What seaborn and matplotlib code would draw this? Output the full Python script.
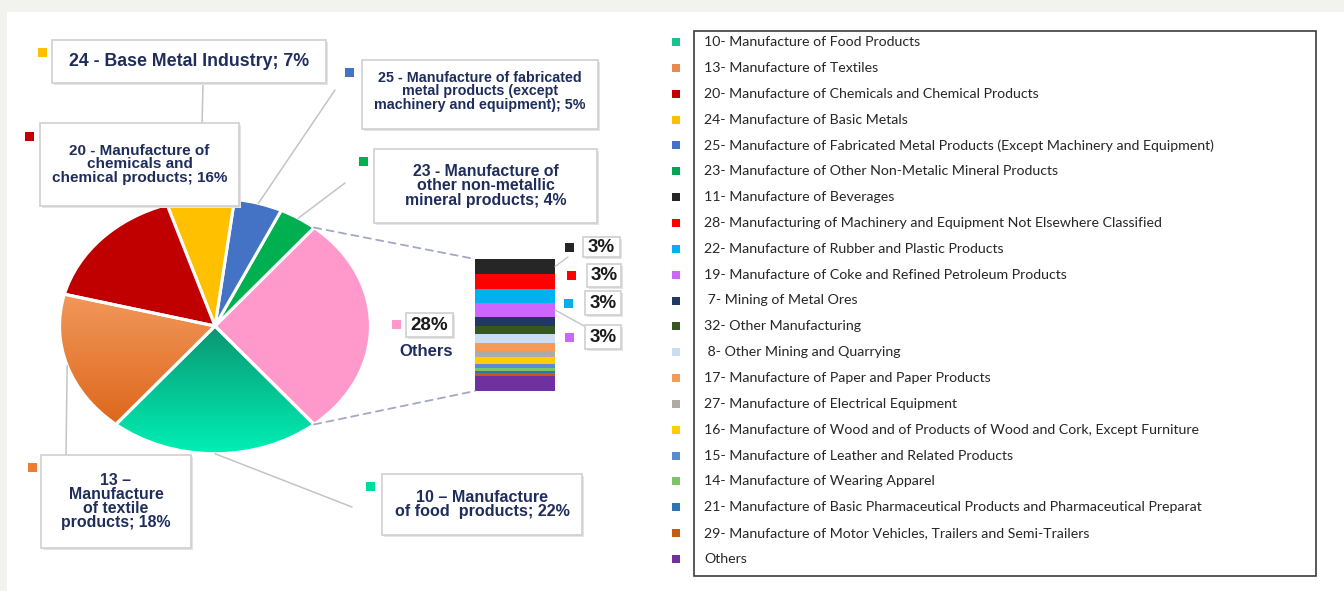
import matplotlib
matplotlib.use("Agg")
import matplotlib.pyplot as plt
import numpy as np
import seaborn as sns
from matplotlib.patches import Rectangle, ConnectionPatch
from matplotlib.colors import LinearSegmentedColormap

sns.set_theme(style="white")
plt.rcParams["font.family"] = ["Liberation Sans", "DejaVu Sans"]

# ---- data ----
# main pie, counter-clockwise starting with "Others"
pie_names = ["Others", "23", "25", "24", "20", "13", "10"]
pie_values = [28, 4, 5, 7, 16, 18, 22]
pie_colors = ["#ff99cc", "#00b050", "#4472c4", "#ffc000", "#c00000", "#ed7d31", "#00d9a0"]
pie_texts = [
    "28%",
    "23 - Manufacture of\nother non-metallic\nmineral products; 4%",
    "25 - Manufacture of fabricated\nmetal products (except\nmachinery and equipment); 5%",
    "24 - Base Metal Industry; 7%",
    "20 - Manufacture of\nchemicals and\nchemical products; 16%",
    "13 \u2013\nManufacture\nof textile\nproducts; 18%",
    "10 \u2013 Manufacture\nof food  products; 22%",
]

# breakdown of "Others" (top of the bar first)
bar_codes = ["11", "28", "22", "19", "7", "32", "8", "17", "27", "16", "15", "14", "21", "29", "Others"]
bar_values = [3.2, 3.1, 3.0, 3.0, 2.0, 1.6, 2.0, 1.6, 1.3, 1.4, 0.9, 0.7, 0.4, 0.7, 3.1]
bar_colors = ["#262626", "#ff0000", "#00b0f0", "#cc66ff", "#1f3864", "#375623", "#c9ddf4",
              "#f79a55", "#b0aaa4", "#ffcc00", "#5b8bd0", "#7dc36a", "#2e75b6", "#c55a11", "#7030a0"]
bar_labels = ["3%", "3%", "3%", "3%"]

legend_labels = [
    "10- Manufacture of Food Products",
    "13- Manufacture of Textiles",
    "20- Manufacture of Chemicals and Chemical Products",
    "24- Manufacture of Basic Metals",
    "25- Manufacture of Fabricated Metal Products (Except Machinery and Equipment)",
    "23- Manufacture of Other Non-Metalic Mineral Products",
    "11- Manufacture of Beverages",
    "28- Manufacturing of Machinery and Equipment Not Elsewhere Classified",
    "22- Manufacture of Rubber and Plastic Products",
    "19- Manufacture of Coke and Refined Petroleum Products",
    " 7- Mining of Metal Ores",
    "32- Other Manufacturing",
    " 8- Other Mining and Quarrying",
    "17- Manufacture of Paper and Paper Products",
    "27- Manufacture of Electrical Equipment",
    "16- Manufacture of Wood and of Products of Wood and Cork, Except Furniture",
    "15- Manufacture of Leather and Related Products",
    "14- Manufacture of Wearing Apparel",
    "21- Manufacture of Basic Pharmaceutical Products and Pharmaceutical Preparat",
    "29- Manufacture of Motor Vehicles, Trailers and Semi-Trailers",
    "Others",
]
legend_colors = ["#1fc090", "#e8894f", "#c00000", "#ffc000", "#4472c4", "#00a550", "#262626",
                 "#ff0000", "#00b0f0", "#cc66ff", "#1f3864", "#375623", "#c9ddf4", "#f79a55",
                 "#b0aaa4", "#ffcc00", "#5b8bd0", "#7dc36a", "#2e75b6", "#c55a11", "#7030a0"]

W, H = 1344, 591
navy = "#1f2d5c"
fig = plt.figure(figsize=(W / 100, H / 100), dpi=100)
fig.patch.set_facecolor("#f2f2ee")

# white panel
ax_bg = fig.add_axes([0, 0, 1, 1], zorder=0)
ax_bg.set_xlim(0, W)
ax_bg.set_ylim(H, 0)
ax_bg.axis("off")
ax_bg.add_patch(Rectangle((7, 12), W, H, facecolor="white", edgecolor="none"))

# ---- pie (slightly wider than tall, like the source) ----
ax_pie = fig.add_axes([58 / W, 1 - 455 / H, 314 / W, 258 / H], zorder=1)
start = -pie_values[0] / sum(pie_values) * 360 / 2
wedges, _ = ax_pie.pie(pie_values, colors=pie_colors, startangle=start, counterclock=True,
                       wedgeprops=dict(edgecolor="white", linewidth=2.2))


def shade(wedge, c_top, c_bot, y0, y1):
    cmap = LinearSegmentedColormap.from_list("g", [c_bot, c_top])
    grad = np.linspace(0, 1, 256).reshape(-1, 1)
    im = ax_pie.imshow(grad, cmap=cmap, extent=(-1.05, 1.05, y0, y1), origin="lower",
                       aspect="auto", zorder=0.5)
    im.set_clip_path(wedge)
    wedge.set_facecolor("none")


shade(wedges[6], "#0b9470", "#00f2b6", -1.02, 0.02)
shade(wedges[5], "#f39a5e", "#dd661a", -0.8, 0.3)
ax_pie.set_aspect("auto")
ax_pie.set_xlim(-1.01, 1.01)
ax_pie.set_ylim(-1.01, 1.01)
ax_pie.axis("off")

# ---- bar of "Others" ----
ax_bar = fig.add_axes([475 / W, 1 - 391 / H, 80 / W, 132 / H], zorder=1)
bottom = 0.0
bar_mid = {}
for code, val, col in zip(bar_codes[::-1], bar_values[::-1], bar_colors[::-1]):
    ax_bar.bar(0, val, bottom=bottom, width=1.0, color=col, linewidth=0)
    bar_mid[code] = bottom + val / 2
    bottom += val
ax_bar.set_xlim(-0.5, 0.5)
ax_bar.set_ylim(0, bottom)
ax_bar.axis("off")
total_bar = bottom

# ---- overlay for callouts ----
ax = fig.add_axes([0, 0, 1, 1], zorder=3)
ax.set_xlim(0, W)
ax.set_ylim(H, 0)
ax.axis("off")


def box(x0, y0, x1, y1, ec="#cfcfcf"):
    ax.add_patch(Rectangle((x0 + 2, y0 + 2), x1 - x0, y1 - y0, facecolor="#e4e4e4",
                           edgecolor="none", zorder=3))
    ax.add_patch(Rectangle((x0, y0), x1 - x0, y1 - y0, facecolor="white",
                           edgecolor=ec, linewidth=1.2, zorder=4))


def square(x, y, color, size=9):
    ax.add_patch(Rectangle((x - size / 2, y - size / 2), size, size, facecolor=color,
                           edgecolor="none", zorder=5))


def leader(theta_deg, xy, color="#c4c4c4", ls="-"):
    t = np.radians(theta_deg)
    con = ConnectionPatch(xyA=(np.cos(t), np.sin(t)), coordsA=ax_pie.transData,
                          xyB=xy, coordsB=ax.transData, color=color, linewidth=1.1,
                          linestyle=ls, zorder=2)
    ax.add_artist(con)


cum = np.cumsum([0] + pie_values) / sum(pie_values) * 360 + start
mid = (cum[:-1] + cum[1:]) / 2

# callout layout: box, font size, line spacing, marker, leader end
layout = {
    "24": dict(b=(52, 40, 326, 83), fs=12.8, ls=1.0, m=(42, 52), end=(203, 83)),
    "25": dict(b=(362, 60, 598, 129), fs=10.3, ls=0.92, m=(349, 72), end=(335, 90), ty=-3),
    "20": dict(b=(40, 123, 239, 206), fs=11.0, ls=0.93, m=(29, 136), end=None),
    "23": dict(b=(374, 149, 597, 223), fs=11.4, ls=0.92, m=(363, 161), end=(345, 183)),
    "13": dict(b=(41, 455, 191, 548), fs=11.4, ls=0.92, m=(32, 467), end=(66, 455)),
    "10": dict(b=(382, 474, 582, 535), fs=11.6, ls=0.95, m=(370, 486), end=(352, 507)),
}

for i, name in enumerate(pie_names):
    if name not in layout:
        continue
    L = layout[name]
    x0, y0, x1, y1 = L["b"]
    if L["end"] is not None:
        leader(mid[i], L["end"])
    box(x0, y0, x1, y1)
    ax.text((x0 + x1) / 2, (y0 + y1) / 2 + L.get("ty", 0), pie_texts[i], ha="center",
            va="center", fontsize=L["fs"], fontweight="bold", color=navy,
            linespacing=L["ls"], zorder=6)
    square(*L["m"], pie_colors[i])

# "Others" label
box(406, 313, 453, 337)
ax.text(429.5, 325, pie_texts[0], ha="center", va="center", fontsize=13.5,
        fontweight="bold", color="#1a1a1a", zorder=6)
square(396, 324, pie_colors[0])
ax.text(426, 351, pie_names[0], ha="center", va="center", fontsize=12,
        fontweight="bold", color=navy, zorder=6)

# dashed links pie -> bar
for ang, yb in [(cum[1], total_bar), (cum[0], 0)]:
    t = np.radians(ang)
    con = ConnectionPatch(xyA=(np.cos(t), np.sin(t)), coordsA=ax_pie.transData,
                          xyB=(-0.5, yb), coordsB=ax_bar.transData, color="#a4a8c0",
                          linewidth=1.3, linestyle=(0, (4, 3)), zorder=2)
    ax.add_artist(con)

# 3% labels for the top four segments
lab_boxes = [(583, 237, 620, 257), (587, 264, 621, 287), (585, 291, 621, 315), (585, 325, 621, 349)]
lab_marks = [(569, 247), (571, 275), (568, 303), (569, 337)]
for k, (b, mk) in enumerate(zip(lab_boxes, lab_marks)):
    x0, y0, x1, y1 = b
    box(x0, y0, x1, y1)
    ax.text((x0 + x1) / 2, (y0 + y1) / 2, bar_labels[k], ha="center", va="center",
            fontsize=13.5, fontweight="bold", color="#1a1a1a", zorder=6)
    square(*mk, bar_colors[k])
for code, xy in [(bar_codes[0], (568, 257)), (bar_codes[3], (584, 326))]:
    con = ConnectionPatch(xyA=(0.5, bar_mid[code]), coordsA=ax_bar.transData,
                          xyB=xy, coordsB=ax.transData, color="#c4c4c4",
                          linewidth=1.0, zorder=2)
    ax.add_artist(con)

# ---- legend ----
ax.add_patch(Rectangle((694, 31), 1316 - 694, 576 - 31, facecolor="white",
                       edgecolor="#3c3c3c", linewidth=1.2, zorder=3))
row_h = (559 - 42) / (len(legend_labels) - 1)
for i, (lab, col) in enumerate(zip(legend_labels, legend_colors)):
    y = 42 + i * row_h
    square(676, y, col, size=8)
    ax.text(704, y, lab, ha="left", va="center", fontsize=10.2, color="#262626",
            family=["Lato", "DejaVu Sans"], zorder=6)

fig.savefig("out.png", dpi=100, facecolor=fig.get_facecolor())
